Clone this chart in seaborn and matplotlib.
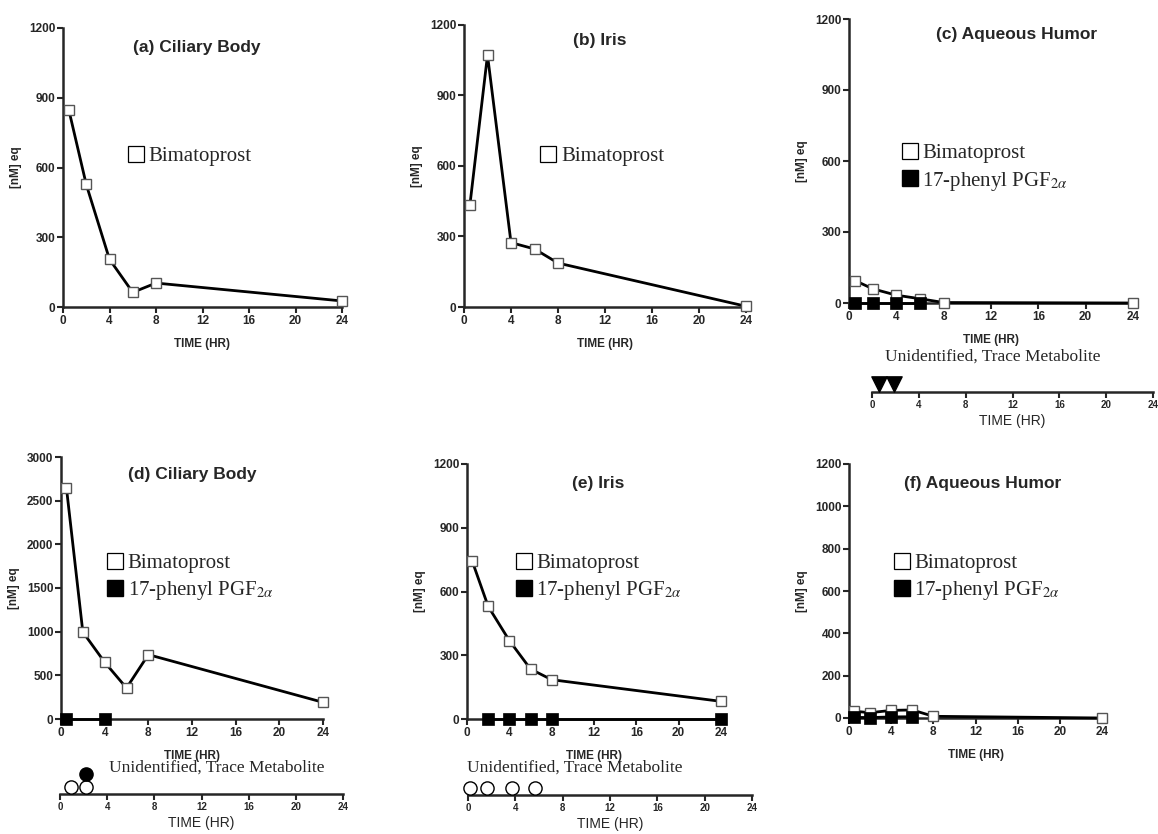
import matplotlib
matplotlib.use("Agg")
import matplotlib.pyplot as plt
import seaborn as sns
from matplotlib.lines import Line2D

# ---------------- data ----------------
time_main = [0.5, 2, 4, 6, 8, 24]

bim_a = [848, 527, 205, 63, 103, 26]
bim_b = [433, 1072, 274, 247, 187, 3]
bim_c = [95, 60, 33, 18, 2, 0]
bim_d = [2645, 996, 650, 355, 737, 191]
bim_e = [742, 530, 369, 235, 185, 83]
bim_f = [32, 25, 36, 38, 8, 0]

time_pg_c = [0.5, 2, 4, 6]
pg_c = [0, 0, 0, 0]
time_pg_d = [0.5, 4]
pg_d = [0, 0]
time_pg_e = [2, 4, 6, 8, 24]
pg_e = [0, 0, 0, 0, 0]
time_pg_f = [0.5, 2, 4, 6]
pg_f = [3, 2, 5, 6]

titles = ["(a) Ciliary Body", "(b) Iris", "(c) Aqueous Humor",
          "(d) Ciliary Body", "(e) Iris", "(f) Aqueous Humor"]

# trace metabolite strips: time, stack level, filled?
trace_c_time = [0.6, 1.9]
trace_c_level = [0, 0]
trace_c_filled = [True, True]
trace_d_time = [0.9, 2.2, 2.2]
trace_d_level = [0, 0, 1]
trace_d_filled = [False, False, True]
trace_e_time = [0.2, 1.6, 3.7, 5.7]
trace_e_level = [0, 0, 0, 0]
trace_e_filled = [False, False, False, False]

# ---------------- style ----------------
sns.set_style("ticks")
plt.rcParams["font.family"] = ["Liberation Sans", "DejaVu Sans"]
plt.rcParams["mathtext.fontset"] = "stix"

W, H = 1158, 834
fig = plt.figure(figsize=(W / 100, H / 100), dpi=100)

SERIF = ["Liberation Serif", "DejaVu Serif"]


def px_axes(l, r, b, t):
    ax = fig.add_axes([l / W, 1 - b / H, (r - l) / W, (b - t) / H])
    ax.patch.set_visible(False)
    return ax


def main_panel(ax, title, bim, t_pg, pg, ymax, ystep, title_xy, leg_xy):
    sns.lineplot(x=time_main, y=bim, ax=ax, color="black", linewidth=2.0,
                 marker="s", markersize=7.5, markerfacecolor="white",
                 markeredgecolor="#555555", markeredgewidth=1.0,
                 clip_on=False, zorder=3, errorbar=None)
    handles = [Line2D([], [], ls="none", marker="s", markersize=12,
                      markerfacecolor="white", markeredgecolor="black",
                      markeredgewidth=0.9)]
    labels = ["Bimatoprost"]
    if t_pg is not None:
        sns.lineplot(x=t_pg, y=pg, ax=ax, color="black", linewidth=2.0,
                     marker="s", markersize=8.5, markerfacecolor="black",
                     markeredgecolor="black", markeredgewidth=0.5,
                     clip_on=False, zorder=4, errorbar=None)
        handles.append(Line2D([], [], ls="none", marker="s", markersize=12,
                              markerfacecolor="black", markeredgecolor="black"))
        labels.append("17-phenyl PGF$_{2\\alpha}$")
    ax.set_xlim(0, 24)
    ax.set_ylim(0, ymax)
    ax.set_xticks(range(0, 25, 4))
    ax.set_yticks(range(0, ymax + 1, ystep))
    for s in ["top", "right"]:
        ax.spines[s].set_visible(False)
    for s in ["left", "bottom"]:
        ax.spines[s].set_linewidth(1.8)
    ax.tick_params(axis="both", width=1.5, length=4, labelsize=8.5, pad=1.5)
    for lab in ax.get_xticklabels() + ax.get_yticklabels():
        lab.set_fontweight("bold")
    ax.set_xlabel("TIME (HR)", fontsize=8.5, fontweight="bold", labelpad=8)
    ax.set_ylabel("[nM] eq", fontsize=8.5, fontweight="bold", labelpad=5)
    ax.text(title_xy[0], title_xy[1], title, transform=ax.transAxes,
            ha="center", va="center", fontsize=12.5, fontweight="bold")
    ax.legend(handles, labels, loc="center left", bbox_to_anchor=leg_xy,
              frameon=False, handlelength=0.8, handletextpad=0.2,
              borderpad=0, borderaxespad=0, labelspacing=0.3,
              prop={"family": SERIF, "size": 15})


def strip(ax, times, levels, filled, marker, ms_pt, text_xy):
    ax.set_xlim(0, 24)
    ax.set_ylim(0, 1)
    h_px = ax.get_position().height * H
    ms_px = ms_pt * 100 / 72
    ys = [(lv + 0.5) * ms_px / h_px for lv in levels]
    for f in (False, True):
        xs = [t for t, fl in zip(times, filled) if fl == f]
        yy = [y for y, fl in zip(ys, filled) if fl == f]
        if xs:
            sns.scatterplot(x=xs, y=yy, ax=ax, marker=marker, s=ms_pt ** 2,
                            color="black" if f else "white",
                            edgecolor="black", linewidth=1.0,
                            clip_on=False, zorder=3, legend=False)
    for s in ["top", "right", "left"]:
        ax.spines[s].set_visible(False)
    ax.spines["bottom"].set_linewidth(1.8)
    ax.set_yticks([])
    ax.set_xticks(range(0, 25, 4))
    ax.tick_params(axis="x", width=1.5, length=4, labelsize=7, pad=1.5)
    for lab in ax.get_xticklabels():
        lab.set_fontweight("bold")
    ax.set_xlabel("TIME (HR)", fontsize=10, labelpad=3)
    ax.set_ylabel("")
    ax.text(text_xy[0], text_xy[1], "Unidentified, Trace Metabolite",
            transform=ax.transAxes, ha="center", va="center",
            fontsize=12.5, family=SERIF)


ax_a = px_axes(63, 342, 307, 28)
ax_b = px_axes(464, 746, 307, 25)
ax_c = px_axes(849, 1133, 303, 19)
ax_d = px_axes(61, 323, 719, 457)
ax_e = px_axes(467, 721, 719, 464)
ax_f = px_axes(849, 1102, 718, 464)

main_panel(ax_a, titles[0], bim_a, None, None, 1200, 300, (0.48, 0.93), (0.23, 0.54))
main_panel(ax_b, titles[1], bim_b, None, None, 1200, 300, (0.48, 0.945), (0.27, 0.535))
main_panel(ax_c, titles[2], bim_c, time_pg_c, pg_c, 1200, 300, (0.59, 0.944), (0.185, 0.475))
main_panel(ax_d, titles[3], bim_d, time_pg_d, pg_d, 3000, 500, (0.50, 0.935), (0.175, 0.538))
main_panel(ax_e, titles[4], bim_e, time_pg_e, pg_e, 1200, 300, (0.516, 0.925), (0.19, 0.553))
main_panel(ax_f, titles[5], bim_f, time_pg_f, pg_f, 1200, 200, (0.53, 0.925), (0.175, 0.551))

st_c = px_axes(872, 1153, 392, 352)
st_d = px_axes(60, 343, 794, 754)
st_e = px_axes(468, 752, 795, 755)

strip(st_c, trace_c_time, trace_c_level, trace_c_filled, "v", 11, (0.43, 0.875))
strip(st_d, trace_d_time, trace_d_level, trace_d_filled, "o", 9.5, (0.555, 0.65))
strip(st_e, trace_e_time, trace_e_level, trace_e_filled, "o", 9.5, (0.377, 0.675))

fig.savefig("out.png", dpi=100)
